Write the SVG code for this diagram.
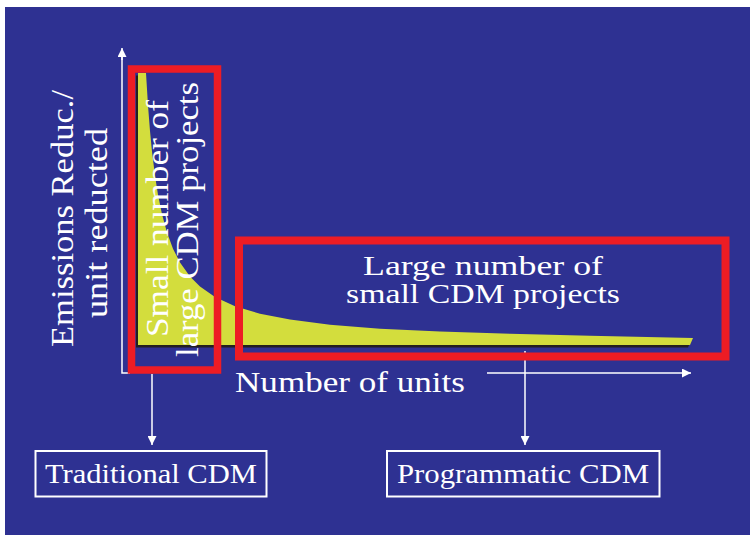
<svg xmlns="http://www.w3.org/2000/svg" width="750" height="535" viewBox="0 0 750 535">
<defs>
<style>
.t{font-family:"Liberation Serif","Times New Roman",serif;fill:#ffffff;}
.ax{stroke:#ffffff;stroke-width:1.5;fill:none;}
.red{fill:none;stroke:#ED1C24;}
.box{fill:none;stroke:#ffffff;stroke-width:2;}
</style>
<marker id="ah" markerUnits="userSpaceOnUse" markerWidth="10" markerHeight="9" refX="9" refY="4.5" orient="auto">
<path d="M0,0 L9,4.5 L0,9 Z" fill="#ffffff"/>
</marker>
<path id="curve" d="M138,73 L146,73 L148,105.4 L150,130.9 L152,151.4 L155,175.8 L158,194.8 L162,214.3 L167,232.5 L173,248.7 L180,262.5 L190,276.5 L200,286.5 L215,297 L235,306.2 L260,313.7 L290,319.6 L330,324.7 L380,328.8 L440,331.5 L510,333.8 L590,335.8 L693,338 L690,345 L138,345 Z"/>
</defs>
<rect x="5" y="7" width="745" height="528" fill="#2E3192"/>
<g id="chart">
<use href="#curve" fill="#231F20" transform="translate(-2,2.5)"/>
<use href="#curve" fill="#D3DD3D"/>
<path class="ax" d="M122,56 V373 H130" />
<line class="ax" x1="122" y1="60" x2="122" y2="48" marker-end="url(#ah)"/>
<line class="ax" x1="487" y1="373" x2="691" y2="373" marker-end="url(#ah)"/>
</g>
<g id="connectors">
<line class="ax" x1="152" y1="374" x2="152" y2="445" marker-end="url(#ah)"/>
<line class="ax" x1="525" y1="351" x2="525" y2="445" marker-end="url(#ah)"/>
</g>
<g id="small-projects">
<rect class="red" x="131.5" y="69" width="86" height="301" stroke-width="7.5"/>
<text class="t" font-size="31" text-anchor="middle" textLength="237" lengthAdjust="spacingAndGlyphs" transform="translate(168,218.5) rotate(-90)">Small number of</text>
<text class="t" font-size="31" text-anchor="middle" textLength="275" lengthAdjust="spacingAndGlyphs" transform="translate(198,219.5) rotate(-90)">large CDM projects</text>
</g>
<g id="large-projects">
<rect class="red" x="239" y="240.5" width="486.5" height="116" stroke-width="8"/>
<text class="t" font-size="28" text-anchor="middle" textLength="240" lengthAdjust="spacingAndGlyphs" x="483" y="275">Large number of</text>
<text class="t" font-size="28" text-anchor="middle" textLength="274" lengthAdjust="spacingAndGlyphs" x="483" y="303">small CDM projects</text>
</g>
<g id="y-label">
<text class="t" font-size="31" text-anchor="middle" textLength="257" lengthAdjust="spacingAndGlyphs" transform="translate(73,218.5) rotate(-90)">Emissions Reduc./</text>
<text class="t" font-size="31" text-anchor="middle" textLength="190" lengthAdjust="spacingAndGlyphs" transform="translate(106.5,223) rotate(-90)">unit reducted</text>
</g>
<g id="x-label">
<text class="t" font-size="30" textLength="230" lengthAdjust="spacingAndGlyphs" x="235" y="392">Number of units</text>
</g>
<g id="traditional">
<rect class="box" x="35.5" y="451" width="231" height="45.5"/>
<text class="t" font-size="28" textLength="212" lengthAdjust="spacingAndGlyphs" x="45" y="483">Traditional CDM</text>
</g>
<g id="programmatic">
<rect class="box" x="387" y="451" width="272.5" height="45.5"/>
<text class="t" font-size="28" textLength="252" lengthAdjust="spacingAndGlyphs" x="397" y="483">Programmatic CDM</text>
</g>
</svg>
